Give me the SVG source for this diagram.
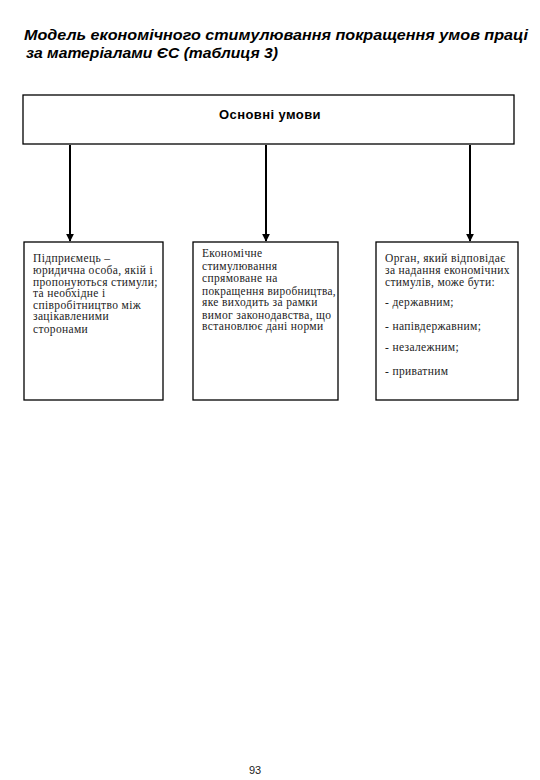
<svg xmlns="http://www.w3.org/2000/svg" width="540" height="780" viewBox="0 0 540 780">
<defs>
<marker id="ah" viewBox="0 0 10 10" refX="9" refY="5" markerWidth="4" markerHeight="4" orient="auto" markerUnits="strokeWidth">
<path d="M0,0 L10,5 L0,10 z" fill="#000"/>
</marker>
</defs>
<style>
.box{fill:#fff;stroke:#000;stroke-width:1.3}
.t{font-family:"Liberation Serif","Times New Roman",serif;font-size:11.5px;letter-spacing:0.35px;fill:#222}
.title{font-family:"Liberation Sans",Arial,sans-serif;font-size:15px;font-weight:bold;font-style:italic;fill:#000}
.head{font-family:"Liberation Sans",Arial,sans-serif;font-size:13px;letter-spacing:0.4px;font-weight:bold;fill:#000}
.conn{stroke:#000;stroke-width:2;fill:none}
</style>
<rect width="540" height="780" fill="#fff"/>
<text class="title" x="24" y="40" textLength="504" lengthAdjust="spacingAndGlyphs">Модель економічного стимулювання покращення умов праці</text>
<text class="title" x="26" y="58" textLength="252" lengthAdjust="spacingAndGlyphs">за матеріалами ЄС (таблиця 3)</text>
<g id="top">
<rect class="box" x="23" y="95" width="491" height="49"/>
<text class="head" x="270" y="119" text-anchor="middle">Основні умови</text>
</g>
<g id="connectors">
<line class="conn" x1="70" y1="145" x2="70" y2="241" marker-end="url(#ah)"/>
<line class="conn" x1="266" y1="145" x2="266" y2="241" marker-end="url(#ah)"/>
<line class="conn" x1="470" y1="145" x2="470" y2="241" marker-end="url(#ah)"/>
</g>
<g id="n1">
<rect class="box" x="24" y="242" width="139" height="158"/>
<text class="t" x="33" y="262">Підприємець –</text>
<text class="t" x="33" y="274">юридична особа, якій і</text>
<text class="t" x="33" y="286">пропонуються стимули;</text>
<text class="t" x="33" y="297">та необхідне і</text>
<text class="t" x="33" y="309">співробітництво між</text>
<text class="t" x="33" y="320">зацікавленими</text>
<text class="t" x="33" y="333">сторонами</text>
</g>
<g id="n2">
<rect class="box" x="193" y="242" width="145" height="158"/>
<text class="t" x="202" y="257">Економічне</text>
<text class="t" x="202" y="270">стимулювання</text>
<text class="t" x="202" y="282">спрямоване на</text>
<text class="t" x="202" y="295" textLength="134" lengthAdjust="spacingAndGlyphs">покращення виробництва,</text>
<text class="t" x="202" y="306">яке виходить за рамки</text>
<text class="t" x="202" y="319">вимог законодавства, що</text>
<text class="t" x="202" y="330">встановлює дані норми</text>
</g>
<g id="n3">
<rect class="box" x="376" y="242" width="142" height="158"/>
<text class="t" x="385" y="262">Орган, який відповідає</text>
<text class="t" x="385" y="274">за надання економічних</text>
<text class="t" x="385" y="286">стимулів, може бути:</text>
<text class="t" x="385" y="306">- державним;</text>
<text class="t" x="385" y="330">- напівдержавним;</text>
<text class="t" x="385" y="351">- незалежним;</text>
<text class="t" x="385" y="375">- приватним</text>
</g>
<text x="255" y="774" text-anchor="middle" font-family="Liberation Sans, Arial, sans-serif" font-size="11" fill="#222">93</text>
</svg>
